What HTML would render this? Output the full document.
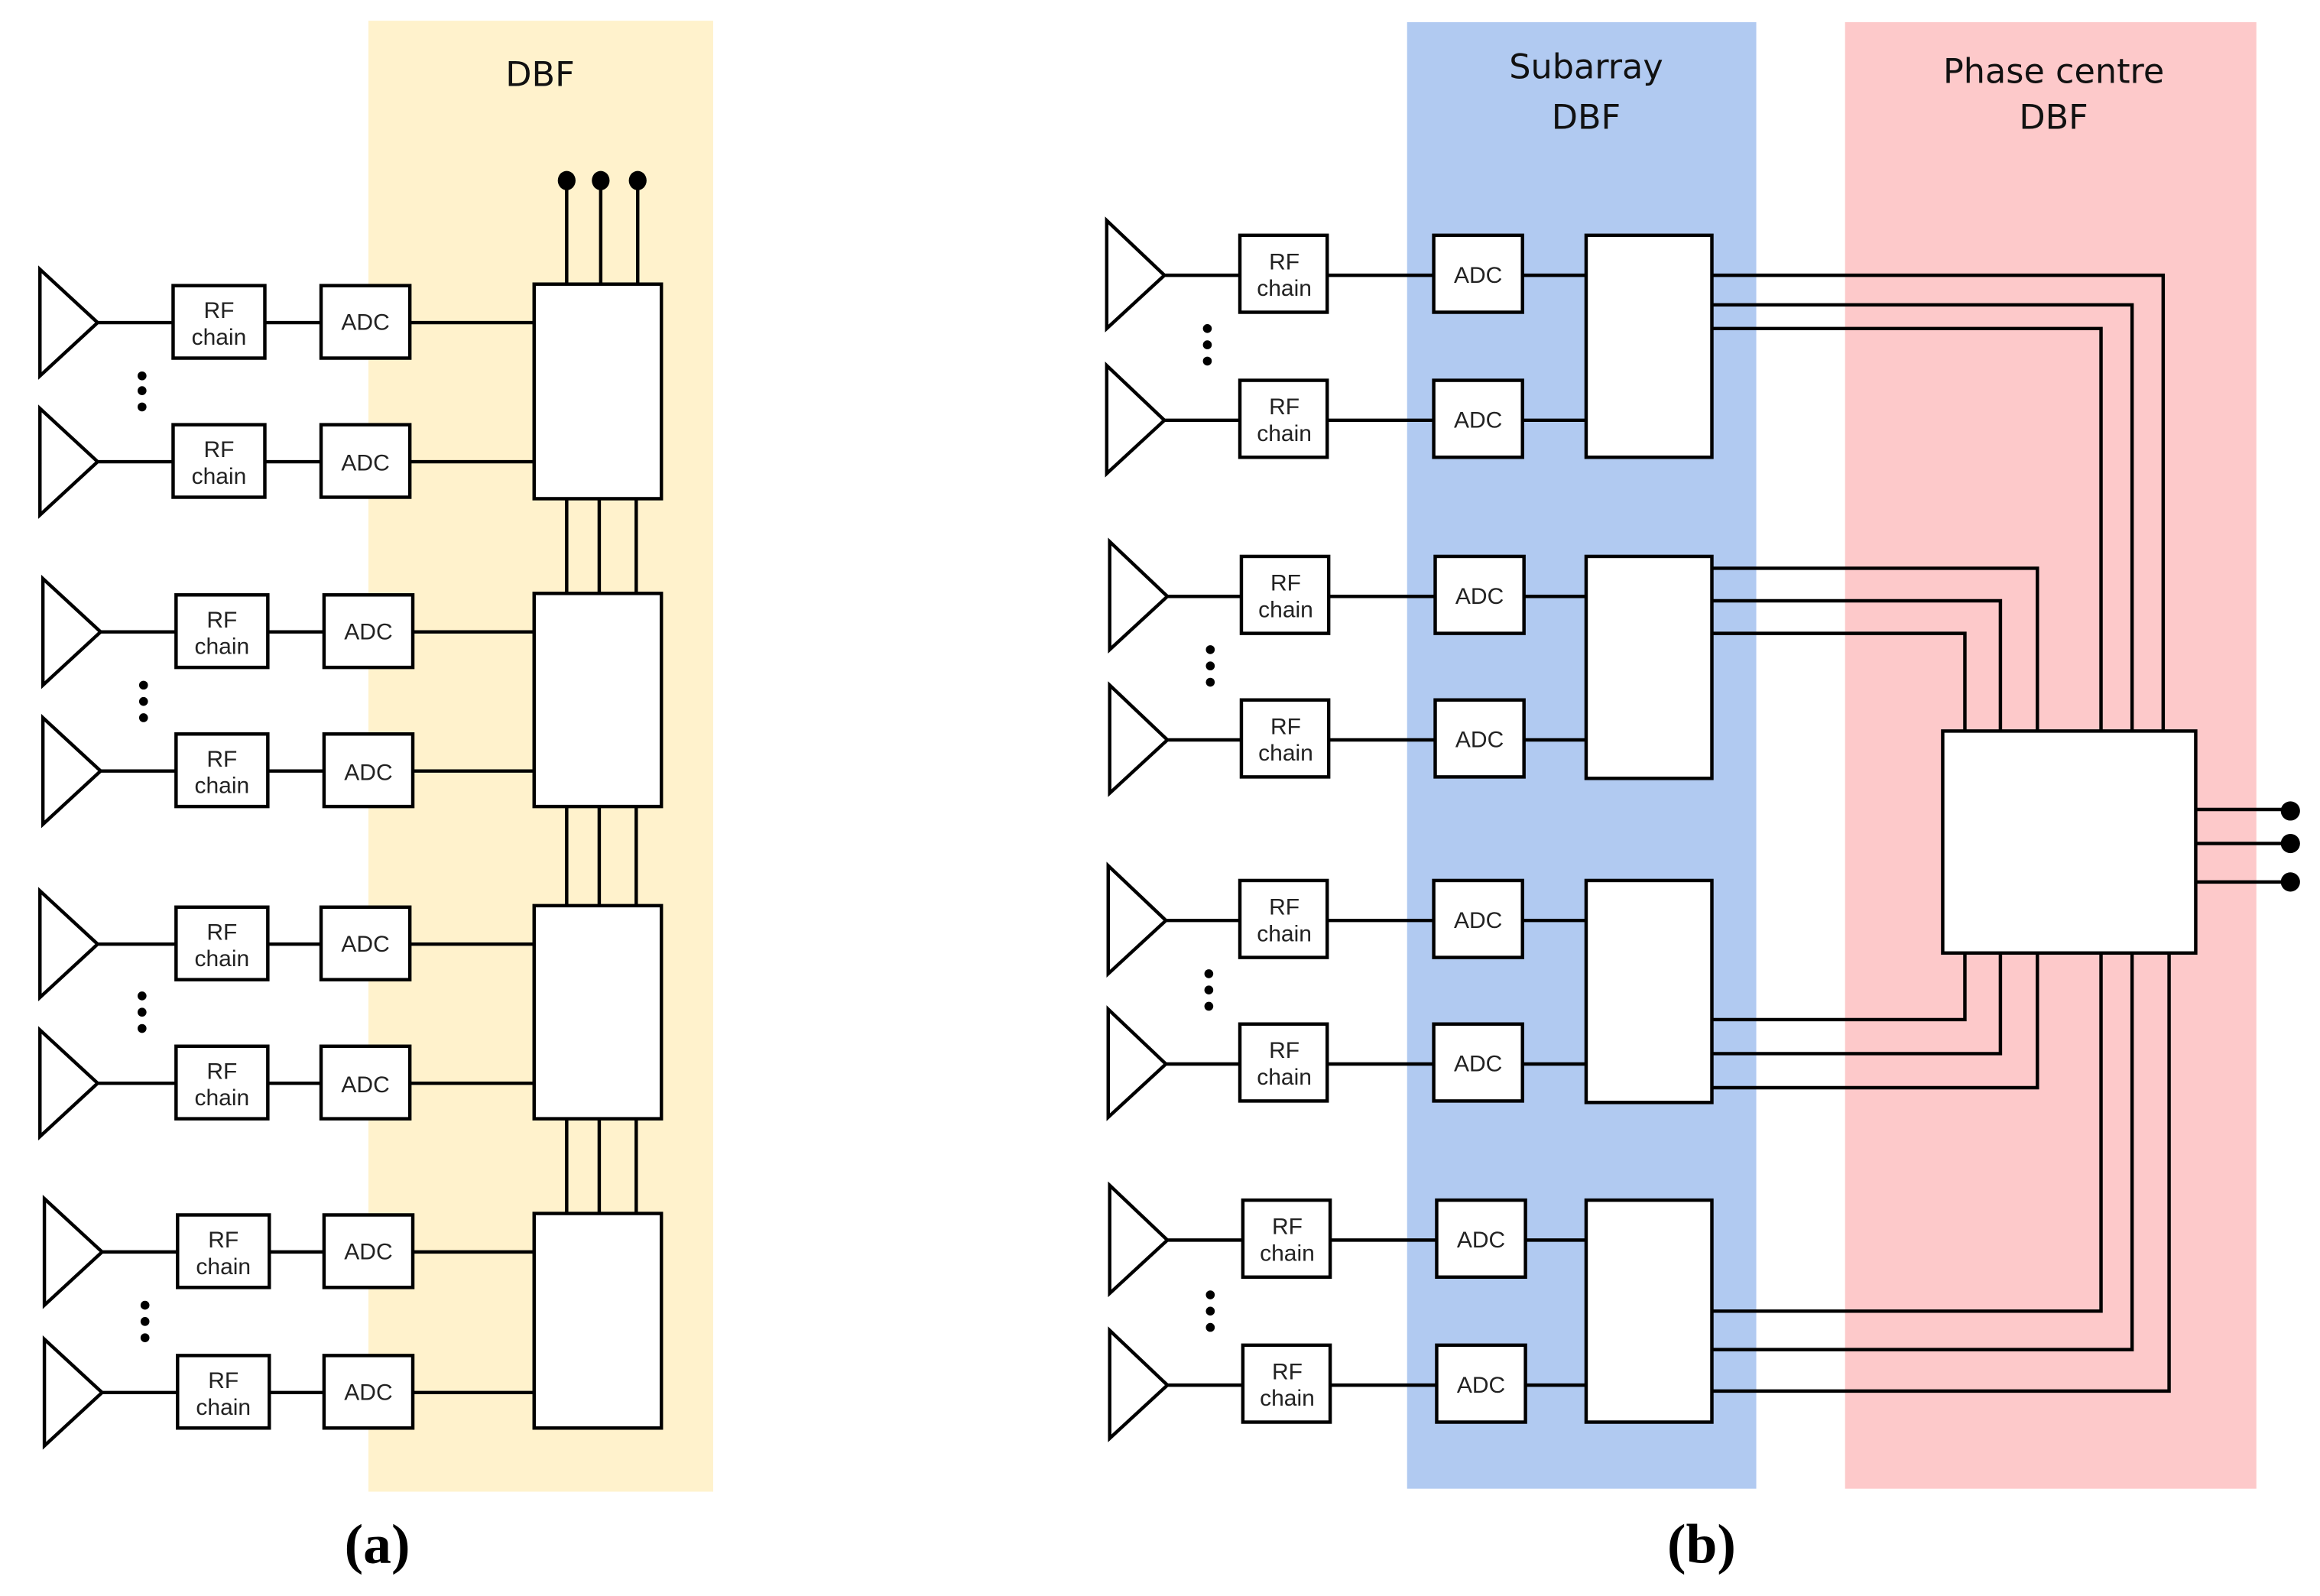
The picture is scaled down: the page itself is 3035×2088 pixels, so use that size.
<!DOCTYPE html>
<html><head><meta charset="utf-8"><style>
html,body{margin:0;padding:0;background:#fff;}
svg{display:block;}
.t{font-family:"Liberation Sans",sans-serif;font-size:15.5px;fill:#222;text-anchor:middle;}
.h{font-family:"DejaVu Sans","Liberation Sans",sans-serif;font-size:23px;fill:#111;text-anchor:middle;}
.c{font-family:"Liberation Serif",serif;font-size:38px;font-weight:bold;fill:#000;text-anchor:middle;}
</style></head><body>
<svg width="3035" height="2088" viewBox="0 0 1568 1078.5" preserveAspectRatio="none" xmlns="http://www.w3.org/2000/svg">
<rect x="249" y="14" width="233" height="994" fill="#fff2cc"/>
<rect x="951" y="15" width="236" height="991" fill="#b1caf1"/>
<rect x="1247" y="15" width="278" height="991" fill="#fdc9ca"/>
<text class="h" x="365" y="58">DBF</text>
<text class="h" x="1072" y="53">Subarray</text>
<text class="h" x="1072" y="87">DBF</text>
<text class="h" x="1388" y="56">Phase centre</text>
<text class="h" x="1388" y="87">DBF</text>
<text class="c" x="255" y="1056">(a)</text>
<text class="c" x="1150" y="1056">(b)</text>
<g fill="none" stroke="#000" stroke-width="2.3">
<path d="M27 182 L66 218 L27 254 Z M66 218 H117 M179 218 H217 M277 218 H361"/><rect x="117" y="193" width="62" height="49" fill="#fff"/><rect x="217" y="193" width="60" height="49" fill="#fff"/>
<path d="M27 276 L66 312 L27 348 Z M66 312 H117 M179 312 H217 M277 312 H361"/><rect x="117" y="287" width="62" height="49" fill="#fff"/><rect x="217" y="287" width="60" height="49" fill="#fff"/>
<path d="M29 391 L68 427 L29 463 Z M68 427 H119 M181 427 H219 M279 427 H361"/><rect x="119" y="402" width="62" height="49" fill="#fff"/><rect x="219" y="402" width="60" height="49" fill="#fff"/>
<path d="M29 485 L68 521 L29 557 Z M68 521 H119 M181 521 H219 M279 521 H361"/><rect x="119" y="496" width="62" height="49" fill="#fff"/><rect x="219" y="496" width="60" height="49" fill="#fff"/>
<path d="M27 602 L66 638 L27 674 Z M66 638 H119 M181 638 H217 M277 638 H361"/><rect x="119" y="613" width="62" height="49" fill="#fff"/><rect x="217" y="613" width="60" height="49" fill="#fff"/>
<path d="M27 696 L66 732 L27 768 Z M66 732 H119 M181 732 H217 M277 732 H361"/><rect x="119" y="707" width="62" height="49" fill="#fff"/><rect x="217" y="707" width="60" height="49" fill="#fff"/>
<path d="M30 810 L69 846 L30 882 Z M69 846 H120 M182 846 H219 M279 846 H361"/><rect x="120" y="821" width="62" height="49" fill="#fff"/><rect x="219" y="821" width="60" height="49" fill="#fff"/>
<path d="M30 905 L69 941 L30 977 Z M69 941 H120 M182 941 H219 M279 941 H361"/><rect x="120" y="916" width="62" height="49" fill="#fff"/><rect x="219" y="916" width="60" height="49" fill="#fff"/>
<path d="M383 122 V192 M406 122 V192 M431 122 V192 M383 337 V401 M405 337 V401 M430 337 V401 M383 545 V612 M405 545 V612 M430 545 V612 M383 756 V820 M405 756 V820 M430 756 V820"/>
<rect x="361" y="192" width="86" height="145" fill="#fff"/>
<rect x="361" y="401" width="86" height="144" fill="#fff"/>
<rect x="361" y="612" width="86" height="144" fill="#fff"/>
<rect x="361" y="820" width="86" height="145" fill="#fff"/>
<path d="M748 149 L787 186 L748 222 Z M787 186 H838 M897 186 H969 M1029 186 H1072"/>
<path d="M748 247 L787 284 L748 320 Z M787 284 H838 M897 284 H969 M1029 284 H1072"/>
<path d="M750 366 L789 403 L750 439 Z M789 403 H839 M898 403 H970 M1030 403 H1072"/>
<path d="M750 463 L789 500 L750 536 Z M789 500 H839 M898 500 H970 M1030 500 H1072"/>
<path d="M749 585 L788 622 L749 658 Z M788 622 H838 M897 622 H969 M1029 622 H1072"/>
<path d="M749 682 L788 719 L749 755 Z M788 719 H838 M897 719 H969 M1029 719 H1072"/>
<path d="M750 801 L789 838 L750 874 Z M789 838 H840 M899 838 H971 M1031 838 H1072"/>
<path d="M750 899 L789 936 L750 972 Z M789 936 H840 M899 936 H971 M1031 936 H1072"/>
<g fill="#fff">
<rect x="838" y="159" width="59" height="52"/><rect x="969" y="159" width="60" height="52"/>
<rect x="838" y="257" width="59" height="52"/><rect x="969" y="257" width="60" height="52"/>
<rect x="839" y="376" width="59" height="52"/><rect x="970" y="376" width="60" height="52"/>
<rect x="839" y="473" width="59" height="52"/><rect x="970" y="473" width="60" height="52"/>
<rect x="838" y="595" width="59" height="52"/><rect x="969" y="595" width="60" height="52"/>
<rect x="838" y="692" width="59" height="52"/><rect x="969" y="692" width="60" height="52"/>
<rect x="840" y="811" width="59" height="52"/><rect x="971" y="811" width="60" height="52"/>
<rect x="840" y="909" width="59" height="52"/><rect x="971" y="909" width="60" height="52"/>
</g>
<path d="M1157 186 H1462 V494 M1157 206 H1441 V494 M1157 222 H1420 V494
M1157 384 H1377 V494 M1157 406 H1352 V494 M1157 428 H1328 V494
M1157 689 H1328 V644 M1157 712 H1352 V644 M1157 735 H1377 V644
M1157 886 H1420 V644 M1157 912 H1441 V644 M1157 940 H1466 V644
M1484 547 H1548 M1484 570 H1548 M1484 596 H1548"/>
<rect x="1072" y="159" width="85" height="150" fill="#fff"/>
<rect x="1072" y="376" width="85" height="150" fill="#fff"/>
<rect x="1072" y="595" width="85" height="150" fill="#fff"/>
<rect x="1072" y="811" width="85" height="150" fill="#fff"/>
<rect x="1313" y="494" width="171" height="150" fill="#fff"/>
</g>
<g fill="#000">
<ellipse cx="383" cy="122" rx="6" ry="6.5"/><ellipse cx="406" cy="122" rx="6" ry="6.5"/><ellipse cx="431" cy="122" rx="6" ry="6.5"/>
<circle cx="1548" cy="548" r="6.5"/><circle cx="1548" cy="570" r="6.5"/><circle cx="1548" cy="596" r="6.5"/>
<circle cx="96" cy="254" r="3"/><circle cx="96" cy="264" r="3"/><circle cx="96" cy="275" r="3"/>
<circle cx="97" cy="463" r="3"/><circle cx="97" cy="474" r="3"/><circle cx="97" cy="485" r="3"/>
<circle cx="96" cy="673" r="3"/><circle cx="96" cy="684" r="3"/><circle cx="96" cy="695" r="3"/>
<circle cx="98" cy="882" r="3"/><circle cx="98" cy="893" r="3"/><circle cx="98" cy="904" r="3"/>
<circle cx="816" cy="222" r="3"/><circle cx="816" cy="233" r="3"/><circle cx="816" cy="244" r="3"/>
<circle cx="818" cy="439" r="3"/><circle cx="818" cy="450" r="3"/><circle cx="818" cy="461" r="3"/>
<circle cx="817" cy="658" r="3"/><circle cx="817" cy="669" r="3"/><circle cx="817" cy="680" r="3"/>
<circle cx="818" cy="875" r="3"/><circle cx="818" cy="886" r="3"/><circle cx="818" cy="897" r="3"/>
</g>
<g class="t">
<text x="148" y="215">RF</text><text x="148" y="233">chain</text><text x="247" y="223">ADC</text>
<text x="148" y="309">RF</text><text x="148" y="327">chain</text><text x="247" y="318">ADC</text>
<text x="150" y="424">RF</text><text x="150" y="442">chain</text><text x="249" y="432">ADC</text>
<text x="150" y="518">RF</text><text x="150" y="536">chain</text><text x="249" y="527">ADC</text>
<text x="150" y="635">RF</text><text x="150" y="653">chain</text><text x="247" y="643">ADC</text>
<text x="150" y="729">RF</text><text x="150" y="747">chain</text><text x="247" y="738">ADC</text>
<text x="151" y="843">RF</text><text x="151" y="861">chain</text><text x="249" y="851">ADC</text>
<text x="151" y="938">RF</text><text x="151" y="956">chain</text><text x="249" y="946">ADC</text>
<text x="868" y="182">RF</text><text x="868" y="200">chain</text><text x="999" y="191">ADC</text>
<text x="868" y="280">RF</text><text x="868" y="298">chain</text><text x="999" y="289">ADC</text>
<text x="869" y="399">RF</text><text x="869" y="417">chain</text><text x="1000" y="408">ADC</text>
<text x="869" y="496">RF</text><text x="869" y="514">chain</text><text x="1000" y="505">ADC</text>
<text x="868" y="618">RF</text><text x="868" y="636">chain</text><text x="999" y="627">ADC</text>
<text x="868" y="715">RF</text><text x="868" y="733">chain</text><text x="999" y="724">ADC</text>
<text x="870" y="834">RF</text><text x="870" y="852">chain</text><text x="1001" y="843">ADC</text>
<text x="870" y="932">RF</text><text x="870" y="950">chain</text><text x="1001" y="941">ADC</text>
</g>
</svg>
</body></html>
